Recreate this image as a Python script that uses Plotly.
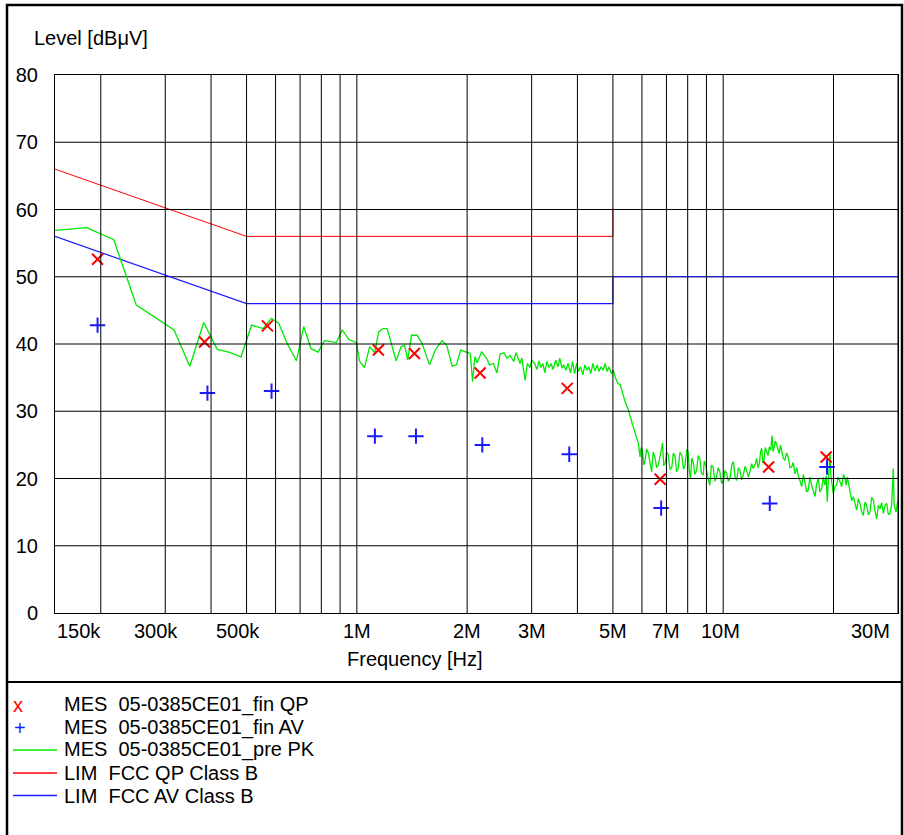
import numpy as np
import plotly.graph_objects as go

# ---------------- data ----------------
qp_freq = [196e3, 384e3, 570e3, 1.145e6, 1.436e6, 2.17e6, 3.75e6, 6.73e6, 13.3e6, 19.1e6]
qp_level = [52.6, 40.3, 42.7, 39.1, 38.6, 35.7, 33.4, 19.9, 21.7, 23.2]

av_freq = [196e3, 391e3, 585e3, 1.12e6, 1.45e6, 2.2e6, 3.8e6, 6.77e6, 13.4e6, 19.2e6]
av_level = [42.8, 32.7, 33.0, 26.3, 26.3, 25.0, 23.6, 15.6, 16.3, 21.7]

pk_freq_mhz = [
    0.150, 0.183, 0.217, 0.250, 0.317, 0.350, 0.382, 0.416, 0.447, 0.483,
    0.516, 0.555, 0.584, 0.612, 0.645, 0.684, 0.716, 0.750, 0.784, 0.816,
    0.879, 0.913, 0.950, 0.997, 1.018, 1.049, 1.084, 1.119, 1.147, 1.18,
    1.21, 1.28, 1.32, 1.35, 1.377, 1.41, 1.46, 1.506, 1.58, 1.64,
    1.71, 1.76, 1.82, 1.87, 1.92, 2.0, 2.04, 2.07, 2.10, 2.13,
    2.19, 2.26, 2.30, 2.36, 2.41, 2.46, 2.52, 2.57, 2.62, 2.68,
    2.72, 2.79, 2.82, 2.88, 2.92, 2.97, 3.0, 3.06, 3.10, 3.14,
    3.18, 3.22, 3.26, 3.30, 3.35, 3.39, 3.43, 3.49, 3.54, 3.58,
    3.63, 3.67, 3.72, 3.77, 3.83, 3.88, 3.93, 3.98, 4.03, 4.08,
    4.14, 4.19, 4.25, 4.30, 4.35, 4.41, 4.47, 4.53, 4.58, 4.64,
    4.70, 4.76, 4.82, 4.88, 4.95, 5.01, 5.07, 5.16, 5.23, 5.40,
    5.51, 5.63, 5.78, 5.87,
    5.93, 5.97, 6.02, 6.07, 6.12, 6.18, 6.25, 6.31, 6.38, 6.44,
    6.51, 6.58, 6.65, 6.74, 6.83, 6.88, 6.94, 7.01, 7.08, 7.16,
    7.24, 7.31, 7.39, 7.46, 7.54, 7.62, 7.71, 7.79, 7.87, 7.95,
    8.02, 8.08, 8.14, 8.21, 8.28, 8.37, 8.46, 8.55, 8.63, 8.72,
    8.82, 8.88, 8.95, 9.07, 9.19, 9.29, 9.39, 9.49, 9.59, 9.69,
    9.79, 9.90, 10.0, 10.11, 10.22, 10.33, 10.44, 10.55, 10.66, 10.78,
    10.89, 11.00, 11.11, 11.23, 11.35, 11.47, 11.59, 11.71, 11.83, 11.95,
    12.08, 12.21, 12.34, 12.45, 12.55, 12.65, 12.74, 12.83, 12.92, 13.03,
    13.14, 13.25, 13.36, 13.48, 13.59, 13.68, 13.76, 13.88, 14.00, 14.12,
    14.23, 14.33, 14.44, 14.59, 14.74, 14.90, 15.05, 15.21, 15.37, 15.53,
    15.70, 15.87, 16.03, 16.20, 16.38, 16.55, 16.72, 16.90, 17.07, 17.25,
    17.44, 17.62, 17.80, 17.99, 18.18, 18.37, 18.56, 18.76, 18.96, 19.10,
    19.23, 19.40, 19.57, 19.66, 19.76, 19.97, 20.19, 20.40, 20.61, 20.83,
    21.06, 21.28, 21.50, 21.66, 21.82, 22.00, 22.19, 22.42, 22.65, 22.89,
    23.14, 23.38, 23.62, 23.87, 24.12, 24.38, 24.64, 24.90, 25.16, 25.42,
    25.69, 25.96, 26.24, 26.51, 26.79, 27.07, 27.36, 27.65, 27.94, 28.24,
    28.54, 28.83, 29.13, 29.28, 29.44, 29.65, 29.86, 30.0,
]
pk_level = [
    56.9, 57.3, 55.5, 45.8, 42.1, 36.7, 43.2, 39.2, 38.8, 38.1,
    42.8, 42.3, 43.8, 43.1, 40.1, 37.5, 42.6, 39.3, 38.8, 40.5,
    40.2, 42.1, 40.7, 40.2, 37.4, 36.5, 39.6, 38.7, 41.8, 42.3,
    42.3, 37.5, 39.6, 39.8, 37.6, 41.3, 41.3, 40.1, 36.9, 39.2,
    40.5, 39.8, 36.7, 36.9, 39.1, 38.7, 38.6, 34.4, 38.1, 37.2,
    38.8, 37.9, 36.9, 37.1, 35.7, 38.5, 38.7, 37.9, 38.3, 37.4,
    38.7, 37.1, 37.9, 34.6, 37.1, 36.5, 37.6, 37.1, 36.2, 37.5,
    36.5, 37.1, 35.7, 37.4, 36.5, 37.1, 36.2, 37.6, 36.6, 37.9,
    36.4, 36.9, 36.1, 37.1, 35.7, 37.4, 35.6, 37.1, 35.9, 36.6,
    35.4, 36.9, 36.1, 36.6, 35.6, 37.1, 36.0, 36.9, 35.9, 36.6,
    36.1, 37.1, 35.9, 36.6, 35.6, 36.1, 35.1, 34.1, 34.0, 31.4,
    30.2, 28.4, 26.2, 25.2,
    23.2, 24.6, 24.0, 22.0, 22.7, 24.4, 23.7, 22.3, 21.0, 23.9,
    23.2, 21.6, 22.0, 23.6, 25.3, 21.9, 22.2, 23.9, 23.5, 21.3,
    21.7, 23.8, 23.2, 21.0, 21.5, 23.9, 23.5, 21.4, 22.0, 24.3,
    24.0, 21.2, 20.0, 23.0, 22.5, 20.6, 21.2, 23.4, 23.0, 20.8,
    20.5, 22.6, 22.2, 20.3, 19.0, 22.0, 21.7, 19.6, 20.2, 21.6,
    21.0, 19.3, 19.5, 21.2, 20.7, 19.6, 20.0, 22.0, 22.5, 20.2,
    19.7, 21.6, 21.2, 19.8, 20.5, 21.8, 21.2, 20.2, 21.0, 22.2,
    21.5, 22.0, 23.0, 21.6, 22.2, 24.0, 24.5, 22.3, 22.7, 24.6,
    24.0, 23.4, 24.7, 24.2, 26.4, 24.0, 24.5, 25.6, 25.0, 24.3,
    23.7, 25.0, 24.2, 23.0, 22.7, 23.8, 23.2, 21.6, 21.7, 22.4,
    20.7, 21.6, 20.5, 19.6, 18.8, 20.6, 19.5, 18.0, 18.3, 20.2,
    19.0, 18.2, 17.3, 19.2, 20.0, 18.0, 18.5, 20.2, 19.0, 20.4,
    16.5, 20.5, 23.7, 20.6, 19.7, 17.8, 18.8, 19.0, 20.2, 19.4,
    18.8, 20.6, 20.0, 19.0, 20.2, 19.2, 18.0, 16.7, 17.3, 16.2,
    15.3, 17.0, 16.3, 15.1, 14.5, 16.5, 16.0, 14.6, 15.0, 17.2,
    16.8, 15.2, 14.0, 16.0, 15.5, 16.4, 14.8, 16.0, 16.3, 14.6,
    14.8, 16.2, 21.5, 16.0, 15.3, 15.0, 16.3, 16.8,
]

qp_lim_freq = [150e3, 500e3, 5e6, 5e6, 30e6]
qp_lim_level = [66, 56, 56, 60, 60]
av_lim_freq = [150e3, 500e3, 5e6, 5e6, 30e6]
av_lim_level = [56, 46, 46, 50, 50]

tick_labels = ["150k", "300k", "500k", "1M", "2M", "3M", "5M", "7M", "10M", "30M"]
tick_freqs = [150e3, 300e3, 500e3, 1e6, 2e6, 3e6, 5e6, 7e6, 10e6, 30e6]
grid_freqs = [2e5, 3e5, 4e5, 5e5, 6e5, 7e5, 8e5, 9e5,
              1e6, 2e6, 3e6, 4e6, 5e6, 6e6, 7e6, 8e6, 9e6, 10e6, 20e6, 30e6]
y_ticks = [0, 10, 20, 30, 40, 50, 60, 70, 80]

legend_names = ["MES  05-0385CE01_fin QP", "MES  05-0385CE01_fin AV",
                "MES  05-0385CE01_pre PK", "LIM  FCC QP Class B", "LIM  FCC AV Class B"]

pk_freq = [v * 1e6 for v in pk_freq_mhz]

FONT = "Liberation Sans, Arial, sans-serif"
RED = "#ff0000"
BLUE = "#1a1aff"
GREEN = "#00e800"

# ---------------- figure ----------------
fig = go.Figure()
fig.add_trace(go.Scatter(x=qp_lim_freq, y=qp_lim_level, mode="lines",
                         line=dict(color=RED, width=1), name=legend_names[3]))
fig.add_trace(go.Scatter(x=av_lim_freq, y=av_lim_level, mode="lines",
                         line=dict(color=BLUE, width=1.2), name=legend_names[4]))
fig.add_trace(go.Scatter(x=pk_freq, y=pk_level, mode="lines",
                         line=dict(color=GREEN, width=1.3), name=legend_names[2]))
fig.add_trace(go.Scatter(x=qp_freq, y=qp_level, mode="markers", name=legend_names[0],
                         marker=dict(symbol="x-thin", size=11, color=RED,
                                     line=dict(color=RED, width=2))))
fig.add_trace(go.Scatter(x=av_freq, y=av_level, mode="markers", name=legend_names[1],
                         marker=dict(symbol="cross-thin", size=11, color=BLUE,
                                     line=dict(color=BLUE, width=2))))

W, H = 904, 835
ML, MR, MT, MB = 55, 6, 75, 222
pw, ph = W - ML - MR, H - MT - MB


def px(xp):
    return (xp - ML) / pw


def py(yp):
    return (H - MB - yp) / ph


shapes = []
# grid lines drawn above the traces, as in the reference
for f in grid_freqs:
    shapes.append(dict(type="line", xref="x", yref="paper", x0=f, x1=f, y0=0, y1=1,
                       line=dict(color="#000000", width=1), layer="above"))
for yv in y_ticks[1:-1]:
    shapes.append(dict(type="line", xref="paper", yref="y", x0=0, x1=1, y0=yv, y1=yv,
                       line=dict(color="#000000", width=1),
                       layer="below" if yv == 50 else "above"))
# outer frame and separator
shapes.append(dict(type="rect", xref="paper", yref="paper", x0=px(7), x1=px(902),
                   y0=py(845), y1=py(5), line=dict(color="#000000", width=2.5), layer="above"))
shapes.append(dict(type="line", xref="paper", yref="paper", x0=px(7), x1=px(902),
                   y0=py(682), y1=py(682), line=dict(color="#000000", width=2), layer="above"))

# legend sample lines
leg_rows = [705, 727.5, 750, 773, 795.5]
for yr, col in zip(leg_rows[2:], [GREEN, RED, BLUE]):
    shapes.append(dict(type="line", xref="paper", yref="paper", x0=px(13), x1=px(57),
                       y0=py(yr), y1=py(yr), line=dict(color=col, width=1.5)))

annotations = []
# x tick labels
tick_anchor = {"150k": ("left", 0), "300k": ("center", -9), "500k": ("center", -9),
               "10M": ("center", -3), "30M": ("right", -6)}
for lab, f in zip(tick_labels, tick_freqs):
    anc, sh = tick_anchor.get(lab, ("center", 0))
    annotations.append(dict(x=np.log10(f), y=py(631), xref="x", yref="paper", text=lab,
                            showarrow=False, xanchor=anc, yanchor="middle", xshift=sh,
                            font=dict(size=20, color="#000000", family=FONT)))
# axis titles
annotations.append(dict(x=px(32), y=py(38), xref="paper", yref="paper", text="Level [dBμV]",
                        showarrow=False, xanchor="left", yanchor="middle",
                        font=dict(size=20, color="#000000", family=FONT)))
annotations.append(dict(x=px(415), y=py(659), xref="paper", yref="paper", text="Frequency [Hz]",
                        showarrow=False, xanchor="center", yanchor="middle",
                        font=dict(size=20, color="#000000", family=FONT)))
# legend
annotations.append(dict(x=px(18), y=py(leg_rows[0]), xref="paper", yref="paper", text="x",
                        showarrow=False, xanchor="center", yanchor="middle",
                        font=dict(size=20, color=RED, family=FONT)))
annotations.append(dict(x=px(20), y=py(leg_rows[1]), xref="paper", yref="paper", text="+",
                        showarrow=False, xanchor="center", yanchor="middle",
                        font=dict(size=20, color=BLUE, family=FONT)))
for name, yr in zip(legend_names, leg_rows):
    annotations.append(dict(x=px(62), y=py(yr), xref="paper", yref="paper", text=name,
                            showarrow=False, xanchor="left", yanchor="middle",
                            font=dict(size=20, color="#000000", family=FONT)))

fig.update_layout(
    width=W, height=H,
    margin=dict(l=ML, r=MR, t=MT, b=MB, pad=0),
    paper_bgcolor="#ffffff", plot_bgcolor="#ffffff",
    showlegend=False,
    font=dict(family=FONT, size=20, color="#000000"),
    shapes=shapes, annotations=annotations,
    hovermode=False,
    xaxis=dict(type="log", range=[np.log10(150e3), np.log10(30e6)],
               showgrid=False, zeroline=False, showticklabels=False, ticks="",
               showline=True, linecolor="#000000", linewidth=1, mirror=True),
    yaxis=dict(range=[0, 80], tickvals=y_ticks, showgrid=False, zeroline=False,
               ticks="", showline=True, linecolor="#000000", linewidth=1, mirror=True,
               ticklabelstandoff=12, tickfont=dict(size=20, color="#000000", family=FONT)),
)

fig.write_html("out.html", config={"displayModeBar": False},
               post_script="document.body.style.margin='0';")
